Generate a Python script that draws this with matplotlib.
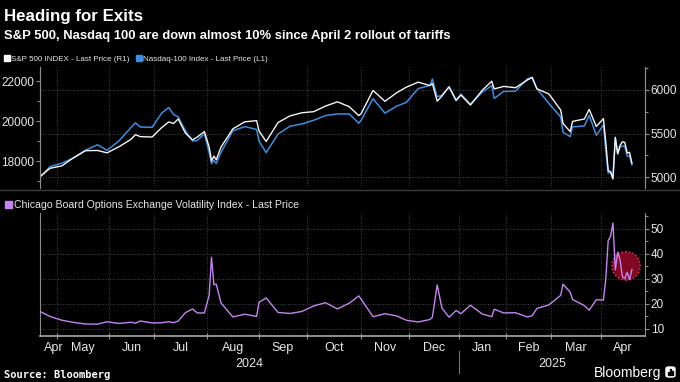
import numpy as np
import matplotlib
matplotlib.use("Agg")
import matplotlib.pyplot as plt
from matplotlib.patches import Rectangle, FancyBboxPatch
from matplotlib.lines import Line2D
from matplotlib.ticker import MultipleLocator, FixedLocator

# closes (weekly, plus the big move days)
dates = [
    "2024-04-22", "2024-04-26", "2024-05-03", "2024-05-10", "2024-05-17", "2024-05-24",
    "2024-05-31", "2024-06-07", "2024-06-14", "2024-06-18", "2024-06-21", "2024-06-28",
    "2024-07-05", "2024-07-10", "2024-07-12", "2024-07-16", "2024-07-19", "2024-07-24",
    "2024-07-26", "2024-07-31", "2024-08-02", "2024-08-05", "2024-08-06", "2024-08-07",
    "2024-08-09", "2024-08-16", "2024-08-23", "2024-08-30", "2024-09-03", "2024-09-06",
    "2024-09-13", "2024-09-20", "2024-09-27", "2024-10-04", "2024-10-11", "2024-10-18",
    "2024-10-25", "2024-10-31", "2024-11-01", "2024-11-08", "2024-11-15", "2024-11-22",
    "2024-11-29", "2024-12-06", "2024-12-13", "2024-12-16", "2024-12-18", "2024-12-20",
    "2024-12-26", "2024-12-31", "2025-01-03", "2025-01-10", "2025-01-17", "2025-01-24",
    "2025-01-27", "2025-01-31", "2025-02-07", "2025-02-14", "2025-02-19", "2025-02-21",
    "2025-02-28", "2025-03-07", "2025-03-10", "2025-03-13", "2025-03-14", "2025-03-21",
    "2025-03-25", "2025-03-28", "2025-04-02", "2025-04-03", "2025-04-04", "2025-04-07",
    "2025-04-08", "2025-04-09", "2025-04-10", "2025-04-11", "2025-04-14", "2025-04-15",
    "2025-04-16", "2025-04-17", "2025-04-21",
]

spx = [
    5010, 5100, 5128, 5223, 5303, 5305,
    5278, 5347, 5431, 5487, 5464, 5460,
    5567, 5633, 5615, 5667, 5505, 5427,
    5459, 5522, 5346, 5186, 5240, 5199,
    5344, 5554, 5634, 5648, 5529, 5408,
    5626, 5702, 5738, 5751, 5815, 5864,
    5808, 5705, 5729, 5995, 5870, 5969,
    6032, 6090, 6051, 6074, 5872, 5930,
    6037, 5882, 5942, 5827, 5997, 6101,
    6012, 6041, 6026, 6115, 6144, 6013,
    5955, 5770, 5615, 5522, 5639, 5667,
    5777, 5581, 5671, 5397, 5074, 5062,
    4983, 5457, 5268, 5363, 5406, 5397,
    5276, 5283, 5158,
]

ndx = [
    17210, 17718, 17891, 18161, 18546, 18809,
    18537, 19000, 19659, 19908, 19701, 19683,
    20392, 20675, 20331, 20200, 19523, 18997,
    19023, 19362, 18440, 17867, 18043, 17876,
    18430, 19509, 19720, 19575, 19000, 18421,
    19345, 19736, 19852, 20035, 20272, 20353,
    20352, 19890, 20033, 21118, 20394, 20743,
    20930, 21622, 21781, 22097, 21209, 21289,
    21700, 21012, 21345, 20848, 21442, 21774,
    21127, 21478, 21491, 22115, 22175, 21614,
    20884, 20201, 19430, 19225, 19704, 19754,
    20287, 19281, 19798, 18521, 17398, 17431,
    17091, 19145, 18345, 18690, 18744, 18731,
    18241, 18258, 17808,
]

vix = [
    16.9, 15.0, 13.5, 12.6, 12.0, 11.9,
    12.9, 12.2, 12.7, 12.3, 13.2, 12.4,
    12.5, 12.9, 12.5, 13.2, 16.5, 18.0,
    16.4, 16.4, 23.4, 38.6, 27.7, 27.9,
    20.4, 14.8, 15.9, 15.0, 20.7, 22.4,
    16.6, 16.2, 17.0, 19.2, 20.5, 18.0,
    20.3, 23.2, 21.9, 14.9, 16.1, 15.2,
    13.5, 12.8, 13.8, 14.7, 27.6, 18.4,
    14.7, 17.4, 16.1, 19.5, 16.0, 14.9,
    17.9, 16.4, 16.5, 14.8, 15.3, 18.2,
    19.6, 23.4, 27.9, 24.7, 21.8, 19.3,
    17.5, 21.7, 21.5, 30.0, 45.3, 47.0,
    52.3, 33.6, 40.7, 37.6, 30.9, 30.1,
    32.6, 29.7, 33.8,
]

month_names = ["Apr", "May", "Jun", "Jul", "Aug", "Sep", "Oct",
               "Nov", "Dec", "Jan", "Feb", "Mar", "Apr"]
month_starts = ["2024-05-01", "2024-06-01", "2024-07-01", "2024-08-01", "2024-09-01",
                "2024-10-01", "2024-11-01", "2024-12-01", "2025-01-01", "2025-02-01",
                "2025-03-01", "2025-04-01"]
# market holidays: the time axis counts trading days only
holidays = ["2024-05-27", "2024-06-19", "2024-07-04", "2024-09-02", "2024-11-28",
            "2024-12-25", "2025-01-01", "2025-01-09", "2025-01-20", "2025-02-17",
            "2025-04-18"]


def tpos(d):
    return np.busday_count(np.datetime64(dates[0]), np.datetime64(d), holidays=holidays)


x = np.array([tpos(d) for d in dates])
ms = np.array([tpos(d) for d in month_starts])
x_left = -0.2
x_right = x[-1] + 5.5
edges = np.concatenate([[x_left], ms, [x_right]])
label_pos = (edges[:-1] + edges[1:]) / 2
label_pos[0] = ms[0] - 1.5
jan1 = tpos("2025-01-01")

W, H = 680, 382
def fx(px):
    return px / W
def fy(py):
    return 1 - py / H

BG = "black"
TXT = "#e6e6e6"
GRID = "#5a5a5a"
SPINE = "#8c8c8c"
BLUE = "#3a8ee3"
PURPLE = "#c584f0"

plt.rcParams["font.family"] = ["Liberation Sans", "DejaVu Sans"]

fig = plt.figure(figsize=(6.8, 3.82), dpi=100, facecolor=BG)

ax = fig.add_axes([fx(40), fy(188), fx(645) - fx(40), fy(67) - fy(188)], facecolor=BG)
ax_spx = ax.twinx()
axv = fig.add_axes([fx(40), fy(336), fx(645) - fx(40), fy(213) - fy(336)], facecolor=BG)

ax.plot(x, ndx, color=BLUE, lw=1.1)
ax_spx.plot(x, spx, color="#f4f4f4", lw=1.0)
axv.plot(x, vix, color=PURPLE, lw=1.0, zorder=3)

# red circle around the latest swings
cx = (x[-6] + x[-1]) / 2
cy = (max(vix[-7:]) + min(vix[-7:])) / 2
axv.scatter([cx], [cy], s=420, facecolor=(0.56, 0.04, 0.15, 0.9),
            edgecolor="#ff3050", linestyle=":", linewidth=1.0, zorder=2)

for a in (ax, ax_spx, axv):
    a.set_xlim(x_left, x_right)
    for s in a.spines.values():
        s.set_color(SPINE)
        s.set_linewidth(0.8)
    a.spines["top"].set_visible(False)

ax.set_ylim(16650, 22700)
ax_spx.set_ylim(4874, 6264)
axv.set_ylim(7.2, 56.3)

# left axis (Nasdaq)
ax.yaxis.set_major_locator(MultipleLocator(2000))
ax.yaxis.set_minor_locator(MultipleLocator(1000))
ax.tick_params(axis="y", which="both", colors=SPINE, labelcolor=TXT,
               labelsize=8.5, direction="out", length=3, width=0.8, pad=1)
ax.tick_params(axis="y", which="minor", length=2)
ax.spines["bottom"].set_visible(False)
ax.tick_params(axis="x", which="both", bottom=False, labelbottom=False)

# right axis (S&P)
ax_spx.yaxis.set_major_locator(MultipleLocator(500))
ax_spx.yaxis.set_minor_locator(MultipleLocator(250))
ax_spx.tick_params(axis="y", which="both", colors=SPINE, labelcolor=TXT,
                   labelsize=8.5, direction="out", length=3, width=0.8, pad=1)
ax_spx.tick_params(axis="y", which="minor", length=2)
ax_spx.spines["bottom"].set_visible(False)
ax_spx.grid(axis="y", color=GRID, ls=(0, (1, 2)), lw=0.6)

ax.xaxis.set_major_locator(FixedLocator(ms))
ax.grid(axis="x", color=GRID, ls=(0, (1, 2)), lw=0.6)

# VIX panel
axv.yaxis.tick_right()
axv.yaxis.set_major_locator(MultipleLocator(10))
axv.yaxis.set_minor_locator(MultipleLocator(5))
axv.tick_params(axis="y", which="both", colors=SPINE, labelcolor=TXT,
                labelsize=8.5, direction="out", length=3, width=0.8, pad=1,
                left=False, right=True)
axv.tick_params(axis="y", which="minor", length=2)
axv.grid(axis="y", color=GRID, ls=(0, (1, 2)), lw=0.6)

axv.xaxis.set_major_locator(FixedLocator(ms))
axv.xaxis.set_minor_locator(FixedLocator(label_pos))
axv.xaxis.set_major_formatter(plt.NullFormatter())
axv.xaxis.set_minor_formatter(plt.FixedFormatter(month_names))
axv.tick_params(axis="x", which="major", direction="inout", length=5, width=0.8, colors=SPINE)
axv.tick_params(axis="x", which="minor", length=0, labelsize=9, labelcolor=TXT, pad=4)
axv.grid(axis="x", which="major", color=GRID, ls=(0, (1, 2)), lw=0.6)
axv.spines["bottom"].set_color("#a8a8a8")
axv.spines["bottom"].set_linewidth(1.2)

# year labels and separator
trans = axv.get_xaxis_transform()
axv.text((x_left + jan1) / 2, -0.175, "2024", transform=trans,
         ha="center", va="top", fontsize=9, color=TXT)
axv.text((jan1 + x_right) / 2, -0.175, "2025", transform=trans,
         ha="center", va="top", fontsize=9, color=TXT)
axv.add_line(Line2D([jan1, jan1], [-0.12, -0.30], transform=trans,
                    color="#777777", lw=0.8, clip_on=False))

# panel separator
fig.add_artist(Line2D([0, 1], [fy(189.5), fy(189.5)], transform=fig.transFigure,
                      color="#3c3c3c", lw=1.0))

# titles
fig.text(fx(4), fy(21), "Heading for Exits", fontweight="bold",
         fontsize=12.2, color="white", va="baseline")
fig.text(fx(4), fy(39), "S&P 500, Nasdaq 100 are down almost 10% since April 2 rollout of tariffs",
         fontweight="bold", fontsize=9.4, color="white", va="baseline")

# legends
fig.add_artist(Rectangle((fx(4), fy(61)), 6 / W, 6 / H,
                         transform=fig.transFigure, color="white"))
fig.text(fx(11), fy(61), "S&P 500 INDEX - Last Price (R1)",
         fontsize=5.8, color=TXT, va="baseline")
fig.add_artist(Rectangle((fx(136), fy(61)), 6 / W, 6 / H,
                         transform=fig.transFigure, color=BLUE))
fig.text(fx(143), fy(61), "Nasdaq-100 Index - Last Price (L1)",
         fontsize=5.8, color=TXT, va="baseline")

fig.add_artist(Rectangle((fx(5), fy(208)), 7 / W, 7 / H,
                         transform=fig.transFigure, color=PURPLE))
fig.text(fx(14), fy(208), "Chicago Board Options Exchange Volatility Index - Last Price",
         fontsize=7.6, color=TXT, va="baseline")

# footer
fig.text(fx(4), fy(378), "Source: Bloomberg", family="DejaVu Sans Mono",
         fontweight="bold", fontsize=7.5, color="white", va="baseline")
fig.text(fx(661), fy(377), "Bloomberg", fontsize=10, color="white",
         ha="right", va="baseline")
fig.add_artist(FancyBboxPatch((fx(666), fy(377)), 9 / W, 10 / H,
                              boxstyle="round,pad=0,rounding_size=0.004",
                              transform=fig.transFigure, color="white"))
for i, hgt in enumerate([3, 6, 4]):
    fig.add_artist(Rectangle((fx(668 + 2 * i), fy(375)), 1 / W, hgt / H,
                             transform=fig.transFigure, color="black"))

fig.savefig("out.png", dpi=100, facecolor=BG)
